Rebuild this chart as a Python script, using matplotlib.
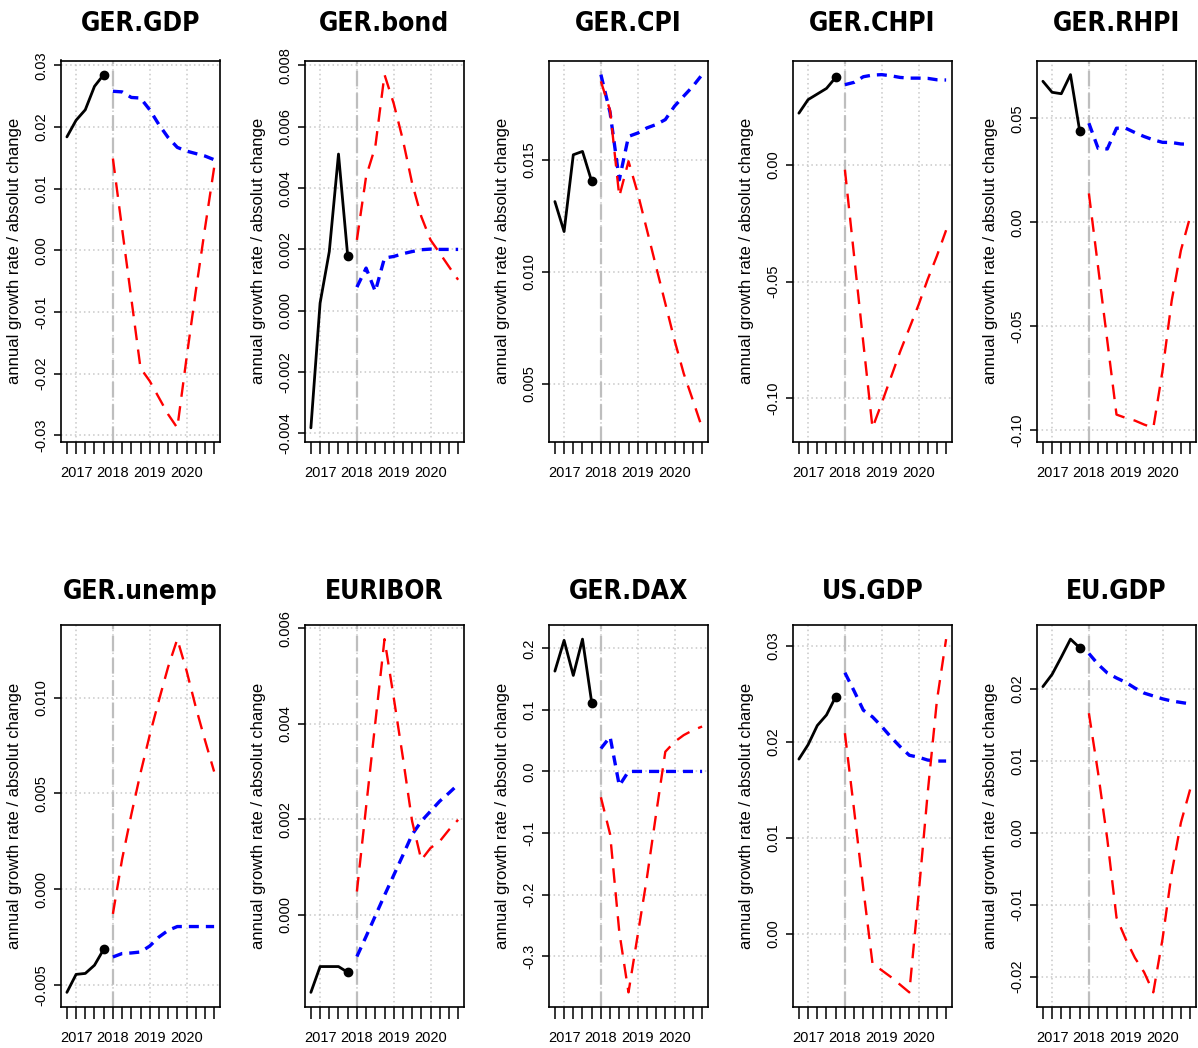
import os
import matplotlib
matplotlib.use("Agg")
import matplotlib.pyplot as plt
from matplotlib import font_manager
from matplotlib.font_manager import FontProperties

plt.rcParams['axes.unicode_minus'] = False

# ---------------- data ----------------
hist_dates = [2016.75, 2017.0, 2017.25, 2017.5, 2017.75]
fc_dates = [2018.0, 2018.25, 2018.5, 2018.75, 2019.0, 2019.25,
            2019.5, 2019.75, 2020.0, 2020.25, 2020.5, 2020.75]
year_ticks = [2017, 2018, 2019, 2020]
year_labels = ["2017", "2018", "2019", "2020"]

titles = ["GER.GDP", "GER.bond", "GER.CPI", "GER.CHPI", "GER.RHPI",
          "GER.unemp", "EURIBOR", "GER.DAX", "US.GDP", "EU.GDP"]

gdp_hist = [0.0184, 0.0211, 0.0228, 0.0266, 0.0285]
gdp_base = [0.0258, 0.0257, 0.0248, 0.0247, 0.0228, 0.0204, 0.0183, 0.0167, 0.0161, 0.0157, 0.0153, 0.0147]
gdp_adv = [0.0149, 0.0035, -0.0078, -0.0191, -0.0212, -0.0239, -0.0266, -0.0288, -0.0175, -0.0067, 0.0035, 0.0134]

bond_hist = [-0.00382, 0.00025, 0.00193, 0.00511, 0.00179]
bond_base = [0.00077, 0.00139, 0.00063, 0.00172, 0.00177, 0.00186, 0.00193, 0.00199, 0.00201, 0.00200, 0.00200, 0.00200]
bond_adv = [0.00231, 0.00438, 0.00535, 0.00770, 0.00676, 0.00557, 0.00416, 0.00307, 0.00231, 0.00188, 0.00144, 0.00101]

cpi_hist = [0.01313, 0.01179, 0.01522, 0.01537, 0.01403]
cpi_base = [0.01880, 0.01710, 0.01410, 0.01604, 0.01619, 0.01642, 0.01657, 0.01679, 0.01739, 0.01784, 0.01828, 0.01880]
cpi_adv = [0.01850, 0.01720, 0.01336, 0.01493, 0.01351, 0.01187, 0.01022, 0.00858, 0.00694, 0.00545, 0.00425, 0.00302]

chpi_hist = [0.0221, 0.0279, 0.0303, 0.0327, 0.0374]
chpi_base = [0.0343, 0.0353, 0.0377, 0.0384, 0.0386, 0.0381, 0.0374, 0.0371, 0.0371, 0.0370, 0.0364, 0.0363]
chpi_adv = [-0.0021, -0.0390, -0.0761, -0.1126, -0.1020, -0.0910, -0.0800, -0.0700, -0.0600, -0.0490, -0.0390, -0.0280]

rhpi_hist = [0.0679, 0.0626, 0.0619, 0.0711, 0.0440]
rhpi_base = [0.0477, 0.0356, 0.0353, 0.0453, 0.0453, 0.0432, 0.0413, 0.0397, 0.0385, 0.0384, 0.0377, 0.0376]
rhpi_adv = [0.0139, -0.0216, -0.0571, -0.0926, -0.0942, -0.0955, -0.0974, -0.0990, -0.0716, -0.0377, -0.0135, 0.0026]

unemp_hist = [-0.00540, -0.00446, -0.00441, -0.00398, -0.00315]
unemp_base = [-0.00355, -0.00337, -0.00334, -0.00329, -0.00298, -0.00251, -0.00216, -0.00196, -0.00196, -0.00196, -0.00196, -0.00196]
unemp_adv = [-0.00130, 0.00156, 0.00389, 0.00606, 0.00804, 0.00986, 0.01160, 0.01306, 0.01142, 0.00952, 0.00779, 0.00614]

euribor_hist = [-0.00162, -0.00108, -0.00108, -0.00108, -0.00120]
euribor_base = [-0.00087, -0.00045, -0.00002, 0.00041, 0.00083, 0.00125, 0.00168, 0.00196, 0.00217, 0.00238, 0.00255, 0.00273]
euribor_adv = [0.00049, 0.00226, 0.00402, 0.00577, 0.00455, 0.00329, 0.00196, 0.00115, 0.00140, 0.00154, 0.00178, 0.00199]

dax_hist = [0.163, 0.213, 0.156, 0.215, 0.112]
dax_base = [0.0372, 0.0563, -0.0230, 0.0, 0.0, 0.0, 0.0, 0.0, 0.0, 0.0, 0.0, 0.0]
dax_adv = [-0.042, -0.102, -0.261, -0.359, -0.266, -0.173, -0.069, 0.032, 0.048, 0.059, 0.067, 0.073]

usgdp_hist = [0.0182, 0.0197, 0.0217, 0.0228, 0.0247]
usgdp_base = [0.0272, 0.0253, 0.0233, 0.0226, 0.0216, 0.0205, 0.0195, 0.0186, 0.0184, 0.0181, 0.0180, 0.0180]
usgdp_adv = [0.0209, 0.0129, 0.0047, -0.0031, -0.0038, -0.0045, -0.0053, -0.0061, 0.0040, 0.0147, 0.0243, 0.0307]

eugdp_hist = [0.0203, 0.0220, 0.0244, 0.0269, 0.0257]
eugdp_base = [0.0249, 0.0234, 0.0222, 0.0215, 0.0209, 0.0201, 0.0194, 0.0190, 0.0186, 0.0183, 0.0181, 0.0179]
eugdp_adv = [0.0166, 0.0083, -0.0009, -0.0118, -0.0148, -0.0174, -0.0194, -0.0222, -0.0148, -0.0056, 0.0014, 0.0060]

hist_series = [gdp_hist, bond_hist, cpi_hist, chpi_hist, rhpi_hist,
               unemp_hist, euribor_hist, dax_hist, usgdp_hist, eugdp_hist]
base_series = [gdp_base, bond_base, cpi_base, chpi_base, rhpi_base,
               unemp_base, euribor_base, dax_base, usgdp_base, eugdp_base]
adv_series = [gdp_adv, bond_adv, cpi_adv, chpi_adv, rhpi_adv,
              unemp_adv, euribor_adv, dax_adv, usgdp_adv, eugdp_adv]

ytick_values = [
    [-0.03, -0.02, -0.01, 0.00, 0.01, 0.02, 0.03],
    [-0.004, -0.002, 0.000, 0.002, 0.004, 0.006, 0.008],
    [0.005, 0.010, 0.015],
    [-0.10, -0.05, 0.00],
    [-0.10, -0.05, 0.00, 0.05],
    [-0.005, 0.000, 0.005, 0.010],
    [0.000, 0.002, 0.004, 0.006],
    [-0.3, -0.2, -0.1, 0.0, 0.1, 0.2],
    [0.00, 0.01, 0.02, 0.03],
    [-0.02, -0.01, 0.00, 0.01, 0.02],
]
ytick_labels = [
    ["-0.03", "-0.02", "-0.01", "0.00", "0.01", "0.02", "0.03"],
    ["-0.004", "-0.002", "0.000", "0.002", "0.004", "0.006", "0.008"],
    ["0.005", "0.010", "0.015"],
    ["-0.10", "-0.05", "0.00"],
    ["-0.10", "-0.05", "0.00", "0.05"],
    ["-0.005", "0.000", "0.005", "0.010"],
    ["0.000", "0.002", "0.004", "0.006"],
    ["-0.3", "-0.2", "-0.1", "0.0", "0.1", "0.2"],
    ["0.00", "0.01", "0.02", "0.03"],
    ["-0.02", "-0.01", "0.00", "0.01", "0.02"],
]
ylabel_text = "annual growth rate / absolut change"

# ---------------- fonts ----------------
font_files = [f.fname for f in font_manager.fontManager.ttflist]
for d in ["/usr/share/fonts", "/usr/local/share/fonts", os.path.expanduser("~/.fonts")]:
    if os.path.isdir(d):
        for root, _, files in os.walk(d):
            for fn in files:
                if fn.lower().endswith((".ttf", ".otf")):
                    font_files.append(os.path.join(root, fn))


def pick(patterns):
    for p in patterns:
        for f in font_files:
            if os.path.basename(f).lower() == p.lower():
                return f
    return None


bold_narrow_file = pick(["LiberationSansNarrow-Bold.ttf", "DejaVuSansCondensed-Bold.ttf",
                         "RobotoCondensed-Bold.ttf", "OpenSans_Condensed-Bold.ttf",
                         "OpenSansCondensed-Bold.ttf", "NotoSans-CondensedBold.ttf",
                         "Roboto_Condensed-Bold.ttf"])

if bold_narrow_file:
    title_fp = FontProperties(fname=bold_narrow_file, size=19)
else:
    title_fp = FontProperties(family=['Liberation Sans', 'DejaVu Sans'], weight='bold', size=17)
xtick_fp = FontProperties(family=['Liberation Sans', 'DejaVu Sans'], size=10.5)
ytick_fp = FontProperties(family=['Liberation Sans', 'DejaVu Sans'], size=10.5)
ylab_fp = FontProperties(family=['Liberation Sans', 'DejaVu Sans'], size=12)

# ---------------- layout ----------------
W, H = 1198, 1048
fig = plt.figure(figsize=(W / 100, H / 100), dpi=100, facecolor='white')
AW, AH = 159, 381.5
col_left = 61
col_step = 244
row_top = [60.5, 625]
title_pad = [21, 19]

for k, name in enumerate(titles):
    r, c = divmod(k, 5)
    left = col_left + col_step * c
    top = row_top[r]
    ax = fig.add_axes([left / W, 1 - (top + AH) / H, AW / W, AH / H])

    h, b, a = hist_series[k], base_series[k], adv_series[k]

    ax.axvline(2018, color='#BEBEBE', lw=1.6, linestyle=(0, (7, 3)), zorder=2)
    ax.plot(fc_dates, b, color='blue', lw=2.4, linestyle=(0, (3.0, 2.1)), zorder=3)
    ax.plot(fc_dates, a, color='red', lw=1.7, linestyle=(0, (6.2, 4.0)), zorder=3)
    ax.plot(hist_dates, h, color='black', lw=2.0, solid_capstyle='round',
            solid_joinstyle='round', zorder=4)
    ax.plot([hist_dates[-1]], [h[-1]], 'o', color='black', ms=6, zorder=5)

    allv = list(h) + list(b) + list(a)
    lo, hi = min(allv), max(allv)
    pad = 0.04 * (hi - lo)
    ax.set_ylim(lo - pad, hi + pad)
    xpad = 0.04 * (fc_dates[-1] - hist_dates[0])
    ax.set_xlim(hist_dates[0] - xpad, fc_dates[-1] + xpad)

    ax.set_xticks(year_ticks)
    ax.set_xticklabels(year_labels, fontproperties=xtick_fp)
    ax.set_xticks(hist_dates + fc_dates, minor=True)
    ax.tick_params(axis='x', which='both', direction='out', length=8.6, width=1.1, pad=9)

    ax.set_yticks(ytick_values[k])
    ax.set_yticklabels(ytick_labels[k], rotation=90, va='center', fontproperties=ytick_fp)
    ax.tick_params(axis='y', direction='out', length=5, width=1.1, pad=4)

    ax.grid(True, which='major', color='#C8C8C8', linestyle=(0, (1, 2)), lw=1.1, zorder=1)
    ax.set_axisbelow(True)

    for s in ax.spines.values():
        s.set_linewidth(1.2)

    ax.set_title(name, fontproperties=title_fp, pad=title_pad[r])
    ax.set_ylabel(ylabel_text, fontproperties=ylab_fp)
    ax.yaxis.label.set_va('center')
    ax.yaxis.set_label_coords(-47 / AW, 0.5)

fig.savefig('out.png', dpi=100, facecolor='white')
